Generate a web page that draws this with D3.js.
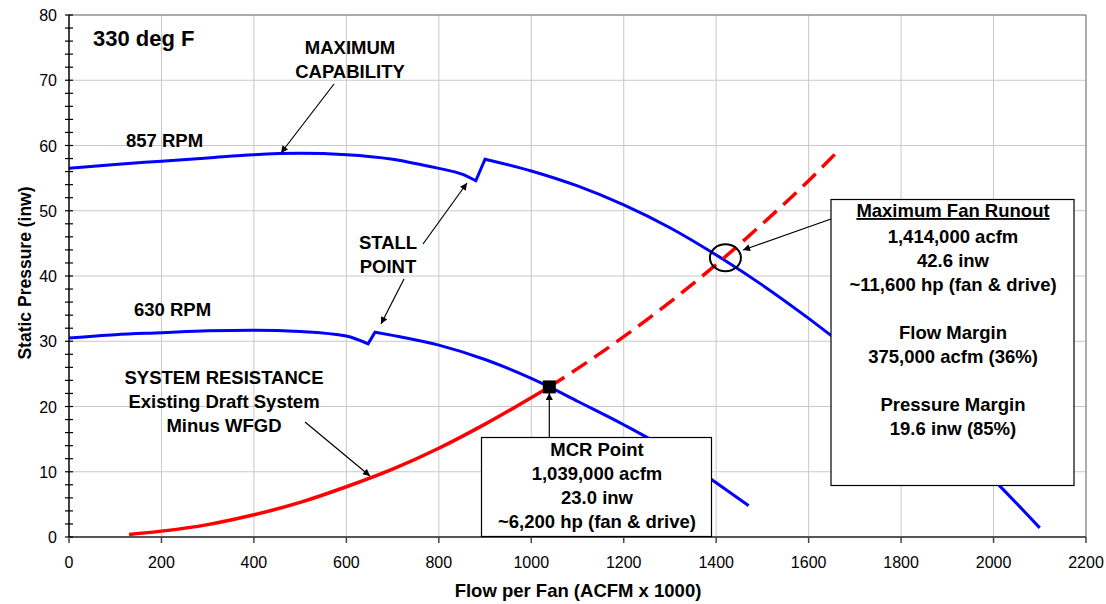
<!DOCTYPE html>
<html>
<head>
<meta charset="utf-8">
<script src="https://cdn.jsdelivr.net/npm/d3@7"></script>
<style>
	body { margin: 0; background: #fff; }
	text { font-family: "Liberation Sans", Arial, sans-serif; fill: #000; }
	.lbl { font-weight: bold; font-size: 18.5px; }
	.tick-lbl { font-size: 16px; }
</style>
</head>
<body>
<div id="root"></div>
<script>
const x_ticks	= [0, 200, 400, 600, 800, 1000, 1200, 1400, 1600, 1800, 2000, 2200];
const y_ticks	= [0, 10, 20, 30, 40, 50, 60, 70, 80];

// fan curves (flow x1000 acfm, inw), split at the stall jump
const rpm857_a	= [[0,56.5],[100,57.1],[200,57.6],[300,58.1],[400,58.6],[500,58.8],[600,58.6],[700,57.9],[760,57.1],[800,56.5],[850,55.6],[880,54.6]];
const rpm857_b	= [[900,57.9],[1000,56.1],[1100,53.8],[1200,50.9],[1300,47.4],[1414,42.6],[1500,38.6],[1600,33.5],[1700,28.0],[1800,22.1],[1900,15.7],[2000,8.8],[2100,1.4]];
const rpm630_a	= [[0,30.5],[100,31.0],[200,31.3],[300,31.6],[400,31.7],[500,31.5],[600,30.8],[647,29.6]];
const rpm630_b	= [[662,31.4],[700,30.9],[800,29.4],[900,27.2],[1000,24.3],[1039,23.0],[1100,20.8],[1200,17.2],[1300,13.2],[1400,8.3],[1470,4.8]];
const sys_solid	= [[130,0.4],[200,0.9],[300,1.9],[400,3.4],[500,5.3],[600,7.7],[700,10.4],[800,13.6],[900,17.3],[1039,23.0]];
const sys_dash	= [[1039,23.0],[1100,25.8],[1200,30.7],[1300,36.0],[1414,42.6],[1500,48.0],[1600,54.6],[1660,58.9]];

const mcr_pt	= [1039, 23.0];
const runout_pt	= [1420, 42.8];

const mcr_text	= ['MCR Point', '1,039,000 acfm', '23.0 inw', '~6,200 hp (fan & drive)'];
const run_text	= ['1,414,000 acfm', '42.6 inw', '~11,600 hp (fan & drive)', '', 'Flow Margin', '375,000 acfm (36%)', '', 'Pressure Margin', '19.6 inw (85%)'];

const W = 1106, H = 604;
const margin = { top: 15, right: 20, bottom: 67, left: 69 };

const svg = d3.select('#root').append('svg')
	.attr('width', W)
	.attr('height', H);

const x = d3.scaleLinear().domain([0, 2200]).range([margin.left, W - margin.right]);
const y = d3.scaleLinear().domain([0, 80]).range([H - margin.bottom, margin.top]);

svg.append('defs').append('marker')
	.attr('id', 'arr')
	.attr('viewBox', '0 0 10 10')
	.attr('refX', 10).attr('refY', 5)
	.attr('markerWidth', 11).attr('markerHeight', 7)
	.attr('markerUnits', 'userSpaceOnUse')
	.attr('orient', 'auto')
	.append('path').attr('d', 'M0,0L10,5L0,10z').attr('fill', '#000');

// grid
svg.append('g').selectAll('line').data(x_ticks.slice(1)).enter().append('line')
	.attr('x1', d => x(d)).attr('x2', d => x(d))
	.attr('y1', y(0)).attr('y2', y(80))
	.attr('stroke', '#c8c8c8').attr('stroke-width', 1);
svg.append('g').selectAll('line').data(y_ticks.slice(1)).enter().append('line')
	.attr('x1', x(0)).attr('x2', x(2200))
	.attr('y1', d => y(d)).attr('y2', d => y(d))
	.attr('stroke', '#c8c8c8').attr('stroke-width', 1);

// frame
svg.append('line').attr('x1', x(0)).attr('x2', x(2200)).attr('y1', y(80)).attr('y2', y(80)).attr('stroke', '#777');
svg.append('line').attr('x1', x(2200)).attr('x2', x(2200)).attr('y1', y(80)).attr('y2', y(0)).attr('stroke', '#777');

const smooth = d3.line().x(d => x(d[0])).y(d => y(d[1])).curve(d3.curveMonotoneX);
const straight = d3.line().x(d => x(d[0])).y(d => y(d[1]));

function fanCurve(a, b) {
	// smooth runs on each side, straight jump at the stall
	let p = smooth(a) + straight([a[a.length - 1], b[0]]).replace('M', 'L') + smooth(b).replace('M', 'L');
	svg.append('path').attr('d', p).attr('fill', 'none').attr('stroke', '#0000ff').attr('stroke-width', 3).attr('stroke-linejoin', 'miter');
}

fanCurve(rpm857_a, rpm857_b);
fanCurve(rpm630_a, rpm630_b);
svg.append('path').attr('d', smooth(sys_solid)).attr('fill', 'none').attr('stroke', '#ff0000').attr('stroke-width', 3.5);
svg.append('path').attr('d', smooth(sys_dash)).attr('fill', 'none').attr('stroke', '#ff0000').attr('stroke-width', 3.5)
	.attr('stroke-dasharray', '18,9');

// axes
svg.append('line').attr('x1', x(0)).attr('x2', x(2200)).attr('y1', y(0)).attr('y2', y(0)).attr('stroke', '#555').attr('stroke-width', 2);
svg.append('line').attr('x1', x(0)).attr('x2', x(0)).attr('y1', y(0)).attr('y2', y(80)).attr('stroke', '#000').attr('stroke-width', 1.5);

svg.append('g').selectAll('line').data(d3.range(0, 81, 2)).enter().append('line')
	.attr('x1', x(0) - 4).attr('x2', x(0) + 4)
	.attr('y1', d => y(d)).attr('y2', d => y(d))
	.attr('stroke', '#000').attr('stroke-width', 1.2);
svg.append('g').selectAll('line').data(x_ticks).enter().append('line')
	.attr('x1', d => x(d)).attr('x2', d => x(d))
	.attr('y1', y(0)).attr('y2', y(0) + 6)
	.attr('stroke', '#444').attr('stroke-width', 1.5);

svg.append('g').selectAll('text').data(y_ticks).enter().append('text')
	.attr('class', 'tick-lbl')
	.attr('x', x(0) - 12).attr('y', d => y(d) + 6)
	.attr('text-anchor', 'end')
	.text(d => d);
svg.append('g').selectAll('text').data(x_ticks).enter().append('text')
	.attr('class', 'tick-lbl')
	.attr('x', d => x(d)).attr('y', y(0) + 31)
	.attr('text-anchor', 'middle')
	.text(d => d);

svg.append('text').attr('class', 'lbl')
	.attr('x', 578).attr('y', 597)
	.attr('text-anchor', 'middle').style('font-size', '18.5px')
	.text('Flow per Fan (ACFM x 1000)');
svg.append('text').attr('class', 'lbl')
	.attr('transform', 'translate(31,' + 273 + ') rotate(-90)')
	.attr('text-anchor', 'middle').style('font-size', '17.5px')
	.text('Static Pressure (inw)');

// free labels
function label(tx, ty, lines, anchor, size) {
	let t = svg.append('text').attr('class', 'lbl').attr('text-anchor', anchor || 'middle');
	if (size) t.style('font-size', size + 'px');
	lines.forEach((s, i) => t.append('tspan').attr('x', tx).attr('y', ty + i * 24).text(s));
	return t;
}

label(93, 46, ['330 deg F'], 'start', 22);
label(350, 54, ['MAXIMUM', 'CAPABILITY']);
label(126, 147, ['857 RPM'], 'start');
label(134, 316, ['630 RPM'], 'start');
label(388, 249, ['STALL', 'POINT']);
label(224, 384, ['SYSTEM RESISTANCE', 'Existing Draft System', 'Minus WFGD']);

function arrow(x1, y1, x2, y2) {
	svg.append('line')
		.attr('x1', x1).attr('y1', y1).attr('x2', x2).attr('y2', y2)
		.attr('stroke', '#000').attr('stroke-width', 1.2)
		.attr('marker-end', 'url(#arr)');
}

arrow(334, 84, 281, 153);
arrow(423, 244, 467, 183);
arrow(404, 279, 381, 324);
arrow(305, 422, 370, 476);

// MCR point
svg.append('rect')
	.attr('x', x(mcr_pt[0]) - 6.5).attr('y', y(mcr_pt[1]) - 6.5)
	.attr('width', 13).attr('height', 13)
	.attr('fill', '#000');

// runout circle
svg.append('ellipse')
	.attr('cx', x(runout_pt[0])).attr('cy', y(runout_pt[1]))
	.attr('rx', 15.5).attr('ry', 13.5)
	.attr('fill', 'none').attr('stroke', '#000').attr('stroke-width', 2);

// MCR box
svg.append('rect').attr('x', 481.5).attr('y', 437.5).attr('width', 230).attr('height', 99)
	.attr('fill', '#fff').attr('stroke', '#000').attr('stroke-width', 1.2);
arrow(x(mcr_pt[0]), 437, x(mcr_pt[0]), 393);
label(597, 456, mcr_text);

// runout box
svg.append('rect').attr('x', 831).attr('y', 199.5).attr('width', 243).attr('height', 286)
	.attr('fill', '#fff').attr('stroke', '#000').attr('stroke-width', 1.2);
arrow(831, 219, 743, 250);
let head = label(953, 217, ['Maximum Fan Runout']);
head.style('text-decoration', 'underline');
label(953, 243, run_text);
</script>
</body>
</html>
